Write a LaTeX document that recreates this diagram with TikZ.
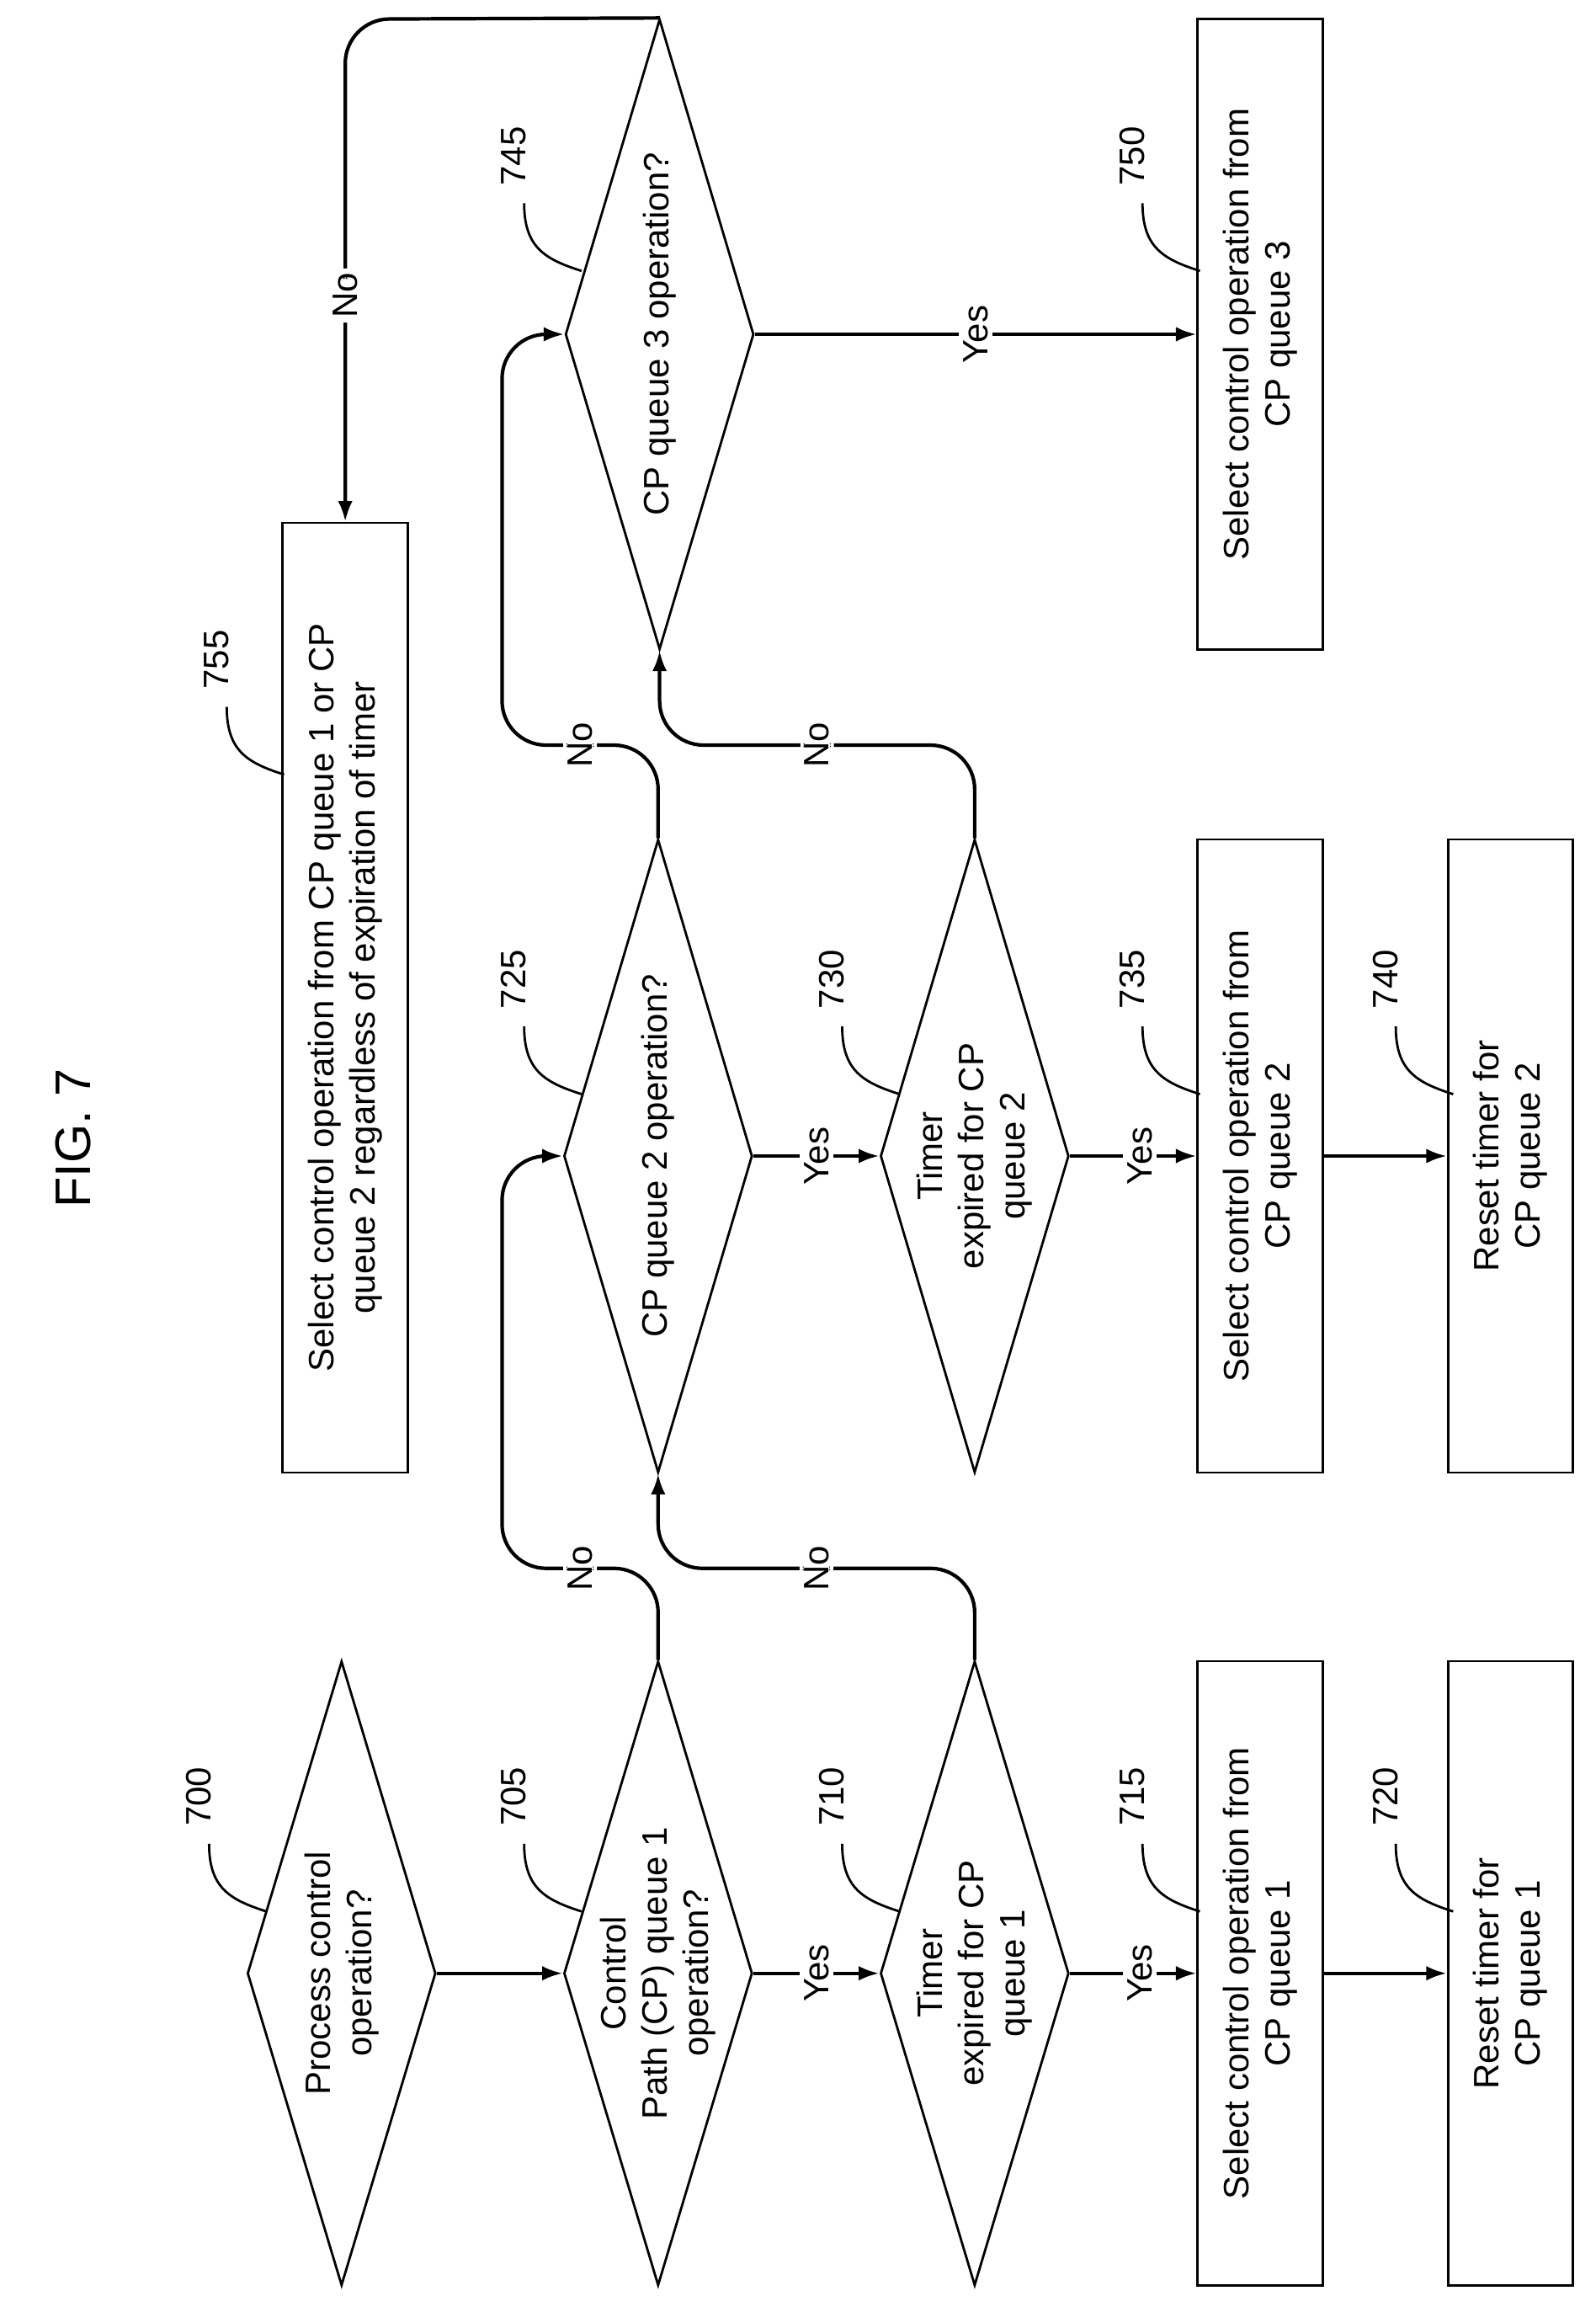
\documentclass[tikz,border=0pt]{standalone}
\usepackage{fontspec}
\setmainfont{Liberation Sans}
\usetikzlibrary{shapes.geometric,arrows.meta}
\begin{document}
\begin{tikzpicture}[x=1pt,y=-1pt,
  every node/.style={font=\fontsize{24}{28}\selectfont},
  dia/.style={draw,diamond,inner sep=0pt,line width=1.6pt,minimum width=128pt,minimum height=#1},
  box/.style={draw,rectangle,inner sep=0pt,line width=1.6pt,minimum width=85pt,minimum height=#1},
  txt/.style={rotate=90,align=center},
  arr/.style={line width=2.4pt,-{Latex[length=14pt,width=10pt]}},
  lbl/.style={fill=white,rotate=90,inner sep=3pt},
  ln/.style={line width=1.6pt}]
\useasboundingbox (0,0) rectangle (1084,1570);
\node[rotate=90,font=\fontsize{34}{40}\selectfont] (fig) at (50,773) {FIG. 7};
% shapes
\node[dia=424pt] (d700) at (232,1340) {};
\node[dia=424pt] (d705) at (447,1340) {};
\node[dia=424pt] (d710) at (662,1340) {};
\node[box=424pt] (b715) at (856,1340) {};
\node[box=424pt] (b720) at (1026,1340) {};
\node[dia=430pt] (d725) at (447,785) {};
\node[dia=430pt] (d730) at (662,785) {};
\node[box=430pt] (b735) at (856,785) {};
\node[box=430pt] (b740) at (1026,785) {};
\node[dia=428pt] (d745) at (448,227) {};
\node[box=428pt] (b750) at (856,227) {};
\node[box=645pt] (b755) at (234.5,677.5) {};
% texts
\node[txt] at (d700) {Process control\\operation?};
\node[txt] at (d705) {Control\\Path (CP) queue 1\\operation?};
\node[txt] at (d710) {Timer\\expired for CP\\queue 1};
\node[txt] at (b715) {Select control operation from\\CP queue 1};
\node[txt] at (b720) {Reset timer for\\CP queue 1};
\node[txt] at (d725) {CP queue 2 operation?};
\node[txt] at (d730) {Timer\\expired for CP\\queue 2};
\node[txt] at (b735) {Select control operation from\\CP queue 2};
\node[txt] at (b740) {Reset timer for\\CP queue 2};
\node[txt] at (d745) {CP queue 3 operation?};
\node[txt] at (b750) {Select control operation from\\CP queue 3};
\node[txt] at (b755) {Select control operation from CP queue 1 or CP\\queue 2 regardless of expiration of timer};
% connectors
\draw[arr] (d700.east) -- (d705.west);
\draw[arr] (d705.east) -- node[lbl]{Yes} (d710.west);
\draw[arr] (d710.east) -- node[lbl,pos=0.55]{Yes} (b715.west);
\draw[arr] (b715.east) -- (b720.west);
\draw[arr] (d725.east) -- node[lbl]{Yes} (d730.west);
\draw[arr] (d730.east) -- node[lbl,pos=0.55]{Yes} (b735.west);
\draw[arr] (b735.east) -- (b740.west);
\draw[arr] (d745.east) -- node[lbl]{Yes} (b750.west);
\draw[arr,rounded corners=30pt] (d705.north) -- (447,1065) -- node[lbl]{No} (341,1065) -- (341,785) -- (d725.west);
\draw[arr,rounded corners=30pt] (d710.north) -- (662,1065) -- node[lbl]{No} (447,1065) -- (d725.south);
\draw[arr,rounded corners=30pt] (d725.north) -- (447,506) -- node[lbl]{No} (341,506) -- (341,227) -- (d745.west);
\draw[arr,rounded corners=30pt] (d730.north) -- (662,506) -- node[lbl]{No} (448,506) -- (d745.south);
\draw[arr,rounded corners=30pt] (d745.north) -- (234.5,13) -- node[lbl,pos=0.55]{No} (b755.north);
% callouts
\foreach \x/\y/\t in {142/1252/700,356/1252/705,572/1252/710,776/1252/715,948/1252/720,
  356/697/725,572/697/730,776/697/735,948/697/740,356/138/745,776/138/750,154/480/755}{
  \draw[ln] (\x,\y) .. controls (\x,\y+30) and (\x+14,\y+38) .. (\x+39,\y+46);
  \node[rotate=90] at (\x-7,\y-32) {\t};
}
\end{tikzpicture}
\end{document}
